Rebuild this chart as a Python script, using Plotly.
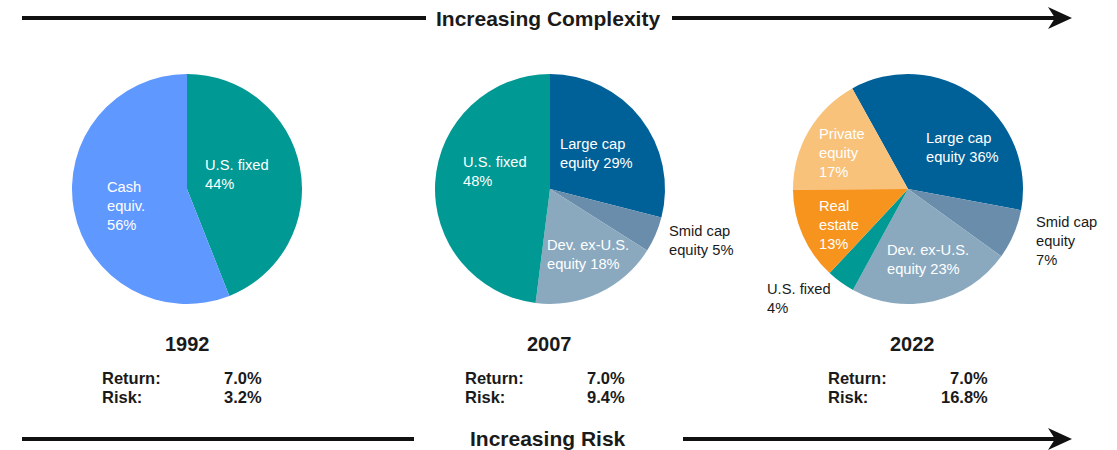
import plotly.graph_objects as go

W, H = 1117, 450

# data
years = ["1992", "2007", "2022"]

labels_1992 = ["U.S. fixed", "Cash equiv."]
values_1992 = [44, 56]

labels_2007 = ["Large cap equity", "Smid cap equity", "Dev. ex-U.S. equity", "U.S. fixed"]
values_2007 = [29, 5, 18, 48]

labels_2022 = ["Large cap equity", "Smid cap equity", "Dev. ex-U.S. equity",
               "U.S. fixed", "Real estate", "Private equity"]
values_2022 = [36, 7, 23, 4, 13, 17]

returns = ["7.0%", "7.0%", "7.0%"]
risks = ["3.2%", "9.4%", "16.8%"]

# colours per asset class
colors = {
    "U.S. fixed": "#009994",
    "Cash equiv.": "#5F98FF",
    "Large cap equity": "#006098",
    "Smid cap equity": "#6A8DAB",
    "Dev. ex-U.S. equity": "#8AA9BF",
    "Real estate": "#F7941E",
    "Private equity": "#F9C27B",
}

# how each label is broken into lines on the chart
label_lines = {
    ("1992", "U.S. fixed"): "U.S. fixed<br>",
    ("1992", "Cash equiv."): "Cash<br>equiv.<br>",
    ("2007", "Large cap equity"): "Large cap<br>equity ",
    ("2007", "Smid cap equity"): "Smid cap<br>equity ",
    ("2007", "Dev. ex-U.S. equity"): "Dev. ex-U.S.<br>equity ",
    ("2007", "U.S. fixed"): "U.S. fixed<br>",
    ("2022", "Large cap equity"): "Large cap<br>equity ",
    ("2022", "Smid cap equity"): "Smid cap<br>equity<br>",
    ("2022", "Dev. ex-U.S. equity"): "Dev. ex-U.S.<br>equity ",
    ("2022", "U.S. fixed"): "U.S. fixed<br>",
    ("2022", "Real estate"): "Real<br>estate<br>",
    ("2022", "Private equity"): "Private<br>equity<br>",
}

# label placement (left edge, vertical centre in px) and whether it sits outside the pie
label_pos = {
    ("1992", "U.S. fixed"): (203, 174, False),
    ("1992", "Cash equiv."): (105, 206, False),
    ("2007", "Large cap equity"): (558, 153, False),
    ("2007", "Smid cap equity"): (667, 240, True),
    ("2007", "Dev. ex-U.S. equity"): (545, 254, False),
    ("2007", "U.S. fixed"): (461, 171, False),
    ("2022", "Large cap equity"): (924, 147, False),
    ("2022", "Smid cap equity"): (1034, 241, True),
    ("2022", "Dev. ex-U.S. equity"): (885, 259, False),
    ("2022", "U.S. fixed"): (765, 298, True),
    ("2022", "Real estate"): (817, 225, False),
    ("2022", "Private equity"): (817, 153, False),
}

FONT = "Liberation Sans, Arial, sans-serif"
DARK = "#1a1a1a"


def fx(x):
    return x / W


def fy(y):
    return 1 - y / H


pies = [
    ("1992", labels_1992, values_1992, 187, 0),
    ("2007", labels_2007, values_2007, 550, 0),
    ("2022", labels_2022, values_2022, 908, -29),
]
R, CY = 115, 189

fig = go.Figure()
annotations = []

for year, labels, values, cx, rot in pies:
    fig.add_trace(go.Pie(
        labels=labels,
        values=values,
        sort=False,
        direction="clockwise",
        rotation=rot,
        textinfo="none",
        hovertemplate="%{label}: %{value}%<extra>" + year + "</extra>",
        marker=dict(colors=[colors[l] for l in labels], line=dict(width=0)),
        domain=dict(x=[fx(cx - R), fx(cx + R)], y=[fy(CY + R), fy(CY - R)]),
        showlegend=False,
    ))
    for lab, val in zip(labels, values):
        x, y, outside = label_pos[(year, lab)]
        annotations.append(dict(
            text=f"{label_lines[(year, lab)]}{val}%",
            x=fx(x), y=fy(y), xref="paper", yref="paper",
            xanchor="left", yanchor="middle", align="left", showarrow=False,
            font=dict(size=14.7, color=DARK if outside else "white", family=FONT),
        ))

# year headings and return / risk lines
stat_left = [100, 463, 826]
stat_right = [264, 627, 990]
year_x = [187, 549, 912]
for i, year in enumerate(years):
    annotations.append(dict(
        text=f"<b>{year}</b>", x=fx(year_x[i]), y=fy(344), xref="paper", yref="paper",
        xanchor="center", yanchor="middle", showarrow=False,
        font=dict(size=20, color=DARK, family=FONT),
    ))
    for name, val, yy in [("Return:", returns[i], 378), ("Risk:", risks[i], 397)]:
        annotations.append(dict(
            text=f"<b>{name}</b>", x=fx(stat_left[i]), y=fy(yy), xref="paper", yref="paper",
            xanchor="left", yanchor="middle", showarrow=False,
            font=dict(size=16.5, color=DARK, family=FONT),
        ))
        annotations.append(dict(
            text=f"<b>{val}</b>", x=fx(stat_right[i]), y=fy(yy), xref="paper", yref="paper",
            xanchor="right", yanchor="middle", showarrow=False,
            font=dict(size=16.5, color=DARK, family=FONT),
        ))

# arrow captions
for txt, yy in [("Increasing Complexity", 18), ("Increasing Risk", 438)]:
    annotations.append(dict(
        text=f"<b>{txt}</b>", x=fx(548), y=fy(yy), xref="paper", yref="paper",
        xanchor="center", yanchor="middle", showarrow=False,
        font=dict(size=21, color=DARK, family=FONT),
    ))

# arrow lines and heads
shapes = []
for y, left_end, right_start in [(18, 426, 672), (439, 414, 683)]:
    for x0, x1 in [(22, left_end), (right_start, 1057)]:
        shapes.append(dict(type="line", xref="paper", yref="paper",
                           x0=fx(x0), x1=fx(x1), y0=fy(y), y1=fy(y),
                           line=dict(color="#111111", width=4)))
    pts = [(1048, y - 11), (1072, y), (1048, y + 11), (1055, y)]
    path = "M " + " L ".join(f"{fx(px)},{fy(py)}" for px, py in pts) + " Z"
    shapes.append(dict(type="path", xref="paper", yref="paper", path=path,
                       fillcolor="#111111", line=dict(width=0)))

fig.update_layout(
    width=W, height=H,
    margin=dict(l=0, r=0, t=0, b=0),
    paper_bgcolor="white",
    plot_bgcolor="white",
    font=dict(family=FONT),
    annotations=annotations,
    shapes=shapes,
)

# drop the default page margin so the figure sits at the window's corner
fig.write_html("out.html", config={"displayModeBar": False},
               post_script="document.body.style.margin='0';")
